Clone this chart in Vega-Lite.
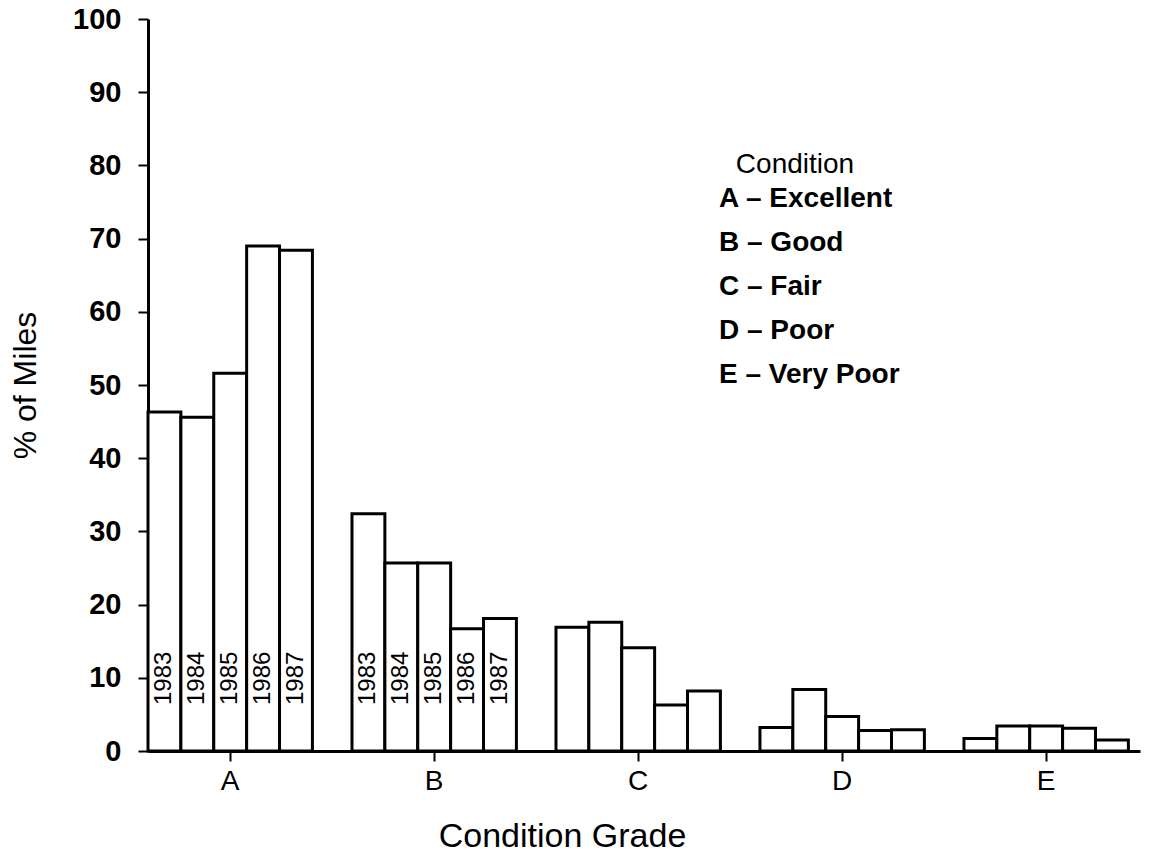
{
  "$schema": "https://vega.github.io/schema/vega-lite/v6.json",
  "width": 992,
  "height": 732,
  "autosize": {"type": "none"},
  "padding": {"left": 148, "top": 19, "right": 9, "bottom": 117},
  "background": "white",
  "config": {
    "view": {"stroke": null},
    "font": "Liberation Sans",
    "axis": {"domainColor": "black", "tickColor": "black", "labelColor": "black", "titleColor": "black", "grid": false}
  },
  "data": {
    "values": [
      {"grade": "A", "condition": "A – Excellent", "year": "1983", "pct": 46.3},
      {"grade": "A", "condition": "A – Excellent", "year": "1984", "pct": 45.6},
      {"grade": "A", "condition": "A – Excellent", "year": "1985", "pct": 51.6},
      {"grade": "A", "condition": "A – Excellent", "year": "1986", "pct": 69.0},
      {"grade": "A", "condition": "A – Excellent", "year": "1987", "pct": 68.4},
      {"grade": "B", "condition": "B – Good", "year": "1983", "pct": 32.4},
      {"grade": "B", "condition": "B – Good", "year": "1984", "pct": 25.7},
      {"grade": "B", "condition": "B – Good", "year": "1985", "pct": 25.7},
      {"grade": "B", "condition": "B – Good", "year": "1986", "pct": 16.7},
      {"grade": "B", "condition": "B – Good", "year": "1987", "pct": 18.1},
      {"grade": "C", "condition": "C – Fair", "year": "1983", "pct": 16.9},
      {"grade": "C", "condition": "C – Fair", "year": "1984", "pct": 17.6},
      {"grade": "C", "condition": "C – Fair", "year": "1985", "pct": 14.1},
      {"grade": "C", "condition": "C – Fair", "year": "1986", "pct": 6.3},
      {"grade": "C", "condition": "C – Fair", "year": "1987", "pct": 8.2},
      {"grade": "D", "condition": "D – Poor", "year": "1983", "pct": 3.2},
      {"grade": "D", "condition": "D – Poor", "year": "1984", "pct": 8.4},
      {"grade": "D", "condition": "D – Poor", "year": "1985", "pct": 4.7},
      {"grade": "D", "condition": "D – Poor", "year": "1986", "pct": 2.8},
      {"grade": "D", "condition": "D – Poor", "year": "1987", "pct": 2.9},
      {"grade": "E", "condition": "E – Very Poor", "year": "1983", "pct": 1.7},
      {"grade": "E", "condition": "E – Very Poor", "year": "1984", "pct": 3.4},
      {"grade": "E", "condition": "E – Very Poor", "year": "1985", "pct": 3.4},
      {"grade": "E", "condition": "E – Very Poor", "year": "1986", "pct": 3.1},
      {"grade": "E", "condition": "E – Very Poor", "year": "1987", "pct": 1.5}
    ]
  },
  "layer": [
    {
      "mark": {"type": "bar", "stroke": "black", "strokeWidth": 3, "strokeJoin": "miter", "opacity": 1},
      "encoding": {
        "x": {
          "field": "grade", "type": "nominal",
          "scale": {"paddingInner": 0.194, "paddingOuter": 0.0285, "align": 0},
          "axis": {
            "title": "Condition Grade", "labelAngle": 0, "domainWidth": 3, "tickWidth": 2, "tickSize": 10,
            "labelFontSize": 28, "labelPadding": 6, "titleFontSize": 34, "titleFontWeight": "normal", "titlePadding": 24,
            "titleAnchor": "start", "titleX": 414, "titleAlign": "center"
          }
        },
        "xOffset": {"field": "year", "type": "ordinal", "scale": {"paddingInner": 0, "paddingOuter": 0}},
        "y": {
          "field": "pct", "type": "quantitative",
          "scale": {"domain": [0, 100], "nice": false},
          "axis": {
            "title": "% of Miles", "values": [0, 10, 20, 30, 40, 50, 60, 70, 80, 90, 100],
            "domainWidth": 3, "tickWidth": 2, "tickSize": 10,
            "labelFontSize": 29, "labelFontWeight": "bold", "labelPadding": 17,
            "titleFontSize": 32, "titleFontWeight": "normal", "titlePadding": 30
          }
        },
        "color": {
          "field": "condition", "type": "nominal",
          "scale": {"range": ["white", "white", "white", "white", "white"]},
          "legend": {
            "title": "Condition", "orient": "none", "legendX": 543, "legendY": 132,
            "titleFontSize": 28, "titleFontWeight": "normal", "titleAnchor": "middle", "titlePadding": 6,
            "labelFontSize": 28, "labelFontWeight": "bold", "labelColor": "black", "titleColor": "black",
            "labelLimit": 500,
            "symbolSize": 0, "symbolOpacity": 0, "symbolStrokeWidth": 0, "labelOffset": 0,
            "rowPadding": 16
          }
        }
      }
    },
    {
      "transform": [{"filter": {"field": "grade", "oneOf": ["A", "B"]}}],
      "mark": {"type": "text", "angle": 270, "align": "left", "baseline": "middle", "dx": 46, "fontSize": 24, "color": "black"},
      "encoding": {
        "x": {"field": "grade", "type": "nominal"},
        "xOffset": {"field": "year", "type": "ordinal"},
        "y": {"datum": 0, "type": "quantitative"},
        "text": {"field": "year"}
      }
    }
  ]
}
